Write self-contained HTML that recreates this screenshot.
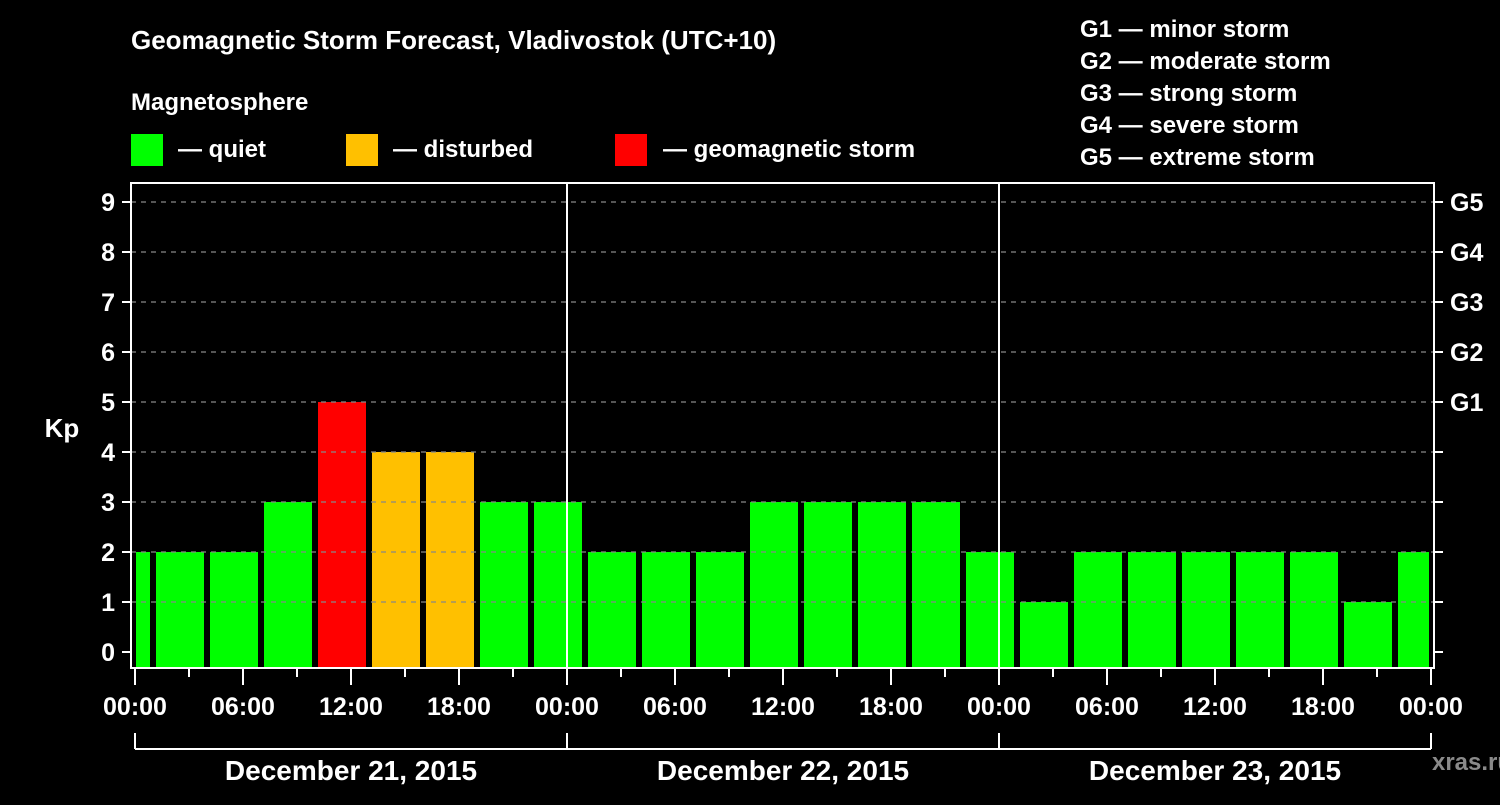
<!DOCTYPE html>
<html><head><meta charset="utf-8"><style>
body{margin:0;background:#000;width:1500px;height:800px;overflow:hidden;font-family:"Liberation Sans",sans-serif}
svg text{font-family:"Liberation Sans",sans-serif;font-weight:bold;fill:#fff}
</style></head><body>
<svg id="c" width="1500" height="800">
<text x="131" y="49" font-size="26">Geomagnetic Storm Forecast, Vladivostok (UTC+10)</text>
<text x="131" y="110" font-size="24">Magnetosphere</text>
<g><rect x="131" y="134" width="32" height="32" fill="#00ff00"/><text x="178" y="157" font-size="24">— quiet</text></g>
<g><rect x="346" y="134" width="32" height="32" fill="#ffc000"/><text x="393" y="157" font-size="24">— disturbed</text></g>
<g><rect x="615" y="134" width="32" height="32" fill="#ff0000"/><text x="663" y="157" font-size="24">— geomagnetic storm</text></g>
<g font-size="24">
<text x="1080" y="37">G1 — minor storm</text><text x="1080" y="69">G2 — moderate storm</text><text x="1080" y="101">G3 — strong storm</text><text x="1080" y="133">G4 — severe storm</text><text x="1080" y="165">G5 — extreme storm</text>
</g>
<text x="62" y="437" font-size="26" text-anchor="middle">Kp</text>
<text x="1472" y="770" font-size="24" text-anchor="middle" fill="#888" style="fill:#8a8a8a">xras.ru</text>
<g id="bars"></g><g id="axes"></g>
</svg>
<script>
const kpValues=[2,2,2,3,5,4,4,3,3,2,2,2,3,3,3,3,2,1,2,2,2,2,2,1,2];
const yTicks=[0,1,2,3,4,5,6,7,8,9];
const gLabels=["G1","G2","G3","G4","G5"];
const dayLabels=["December 21, 2015","December 22, 2015","December 23, 2015"];
const hourLabels=["00:00","06:00","12:00","18:00"];
const ns="http://www.w3.org/2000/svg";
const X0=135,PX=18,Y0=652,PY=50,L=131,R=1434,T=183,B=668;
const x=h=>X0+h*PX, y=v=>Y0-v*PY;
function el(t,a,p){const e=document.createElementNS(ns,t);for(const k in a)e.setAttribute(k,a[k]);p.appendChild(e);return e;}
const bars=document.getElementById('bars'),ax=document.getElementById('axes');
kpValues.forEach((v,i)=>{
 const h0=-2+3*i;let x1=x(h0)+3,x2=x(h0+3)-3;
 x1=Math.max(x1,L+5);x2=Math.min(x2,R-5);
 const col=v>=5?"#ff0000":v>=4?"#ffc000":"#00ff00";
 const r=el('rect',{x:x1,y:y(v),width:x2-x1,height:B-1-y(v),fill:col},bars);
 
 
});
yTicks.forEach(v=>{
 if(v>0){const g=el('line',{x1:L,x2:R,y1:y(v),y2:y(v),stroke:"#888","stroke-width":1.3,"stroke-dasharray":"5,5"},ax);
 }
 el('line',{x1:L-9,x2:L,y1:y(v),y2:y(v),stroke:"#fff","stroke-width":2},ax);
 el('line',{x1:R,x2:R+9,y1:y(v),y2:y(v),stroke:"#fff","stroke-width":2},ax);
 const t=el('text',{x:115,y:y(v)+9,"font-size":25,"text-anchor":"end"},ax);t.textContent=v;
 
 if(v>=5){const g=el('text',{x:1450,y:y(v)+9,"font-size":25},ax);g.textContent=gLabels[v-5];
 }
});
el('rect',{x:L,y:T,width:R-L,height:B-T,fill:"none",stroke:"#fff","stroke-width":2},ax);
[24,48].forEach(h=>el('line',{x1:x(h),x2:x(h),y1:T,y2:B,stroke:"#fff","stroke-width":2},ax));
for(let h=0;h<=72;h+=3){
 el('line',{x1:x(h),x2:x(h),y1:B,y2:h%6==0?B+17:B+9,stroke:"#fff","stroke-width":2},ax);
 if(h%6==0){const t=el('text',{x:x(h),y:715,"font-size":25,"text-anchor":"middle"},ax);t.textContent=hourLabels[(h/6)%4];
 }
}
el('line',{x1:x(0),x2:x(72),y1:749,y2:749,stroke:"#fff","stroke-width":2},ax);
[0,24,48,72].forEach(h=>el('line',{x1:x(h),x2:x(h),y1:733,y2:749,stroke:"#fff","stroke-width":2},ax));
dayLabels.forEach((d,i)=>{const t=el('text',{x:x(12+24*i),y:780,"font-size":28,"text-anchor":"middle"},ax);t.textContent=d;
 });
</script>
</body></html>
